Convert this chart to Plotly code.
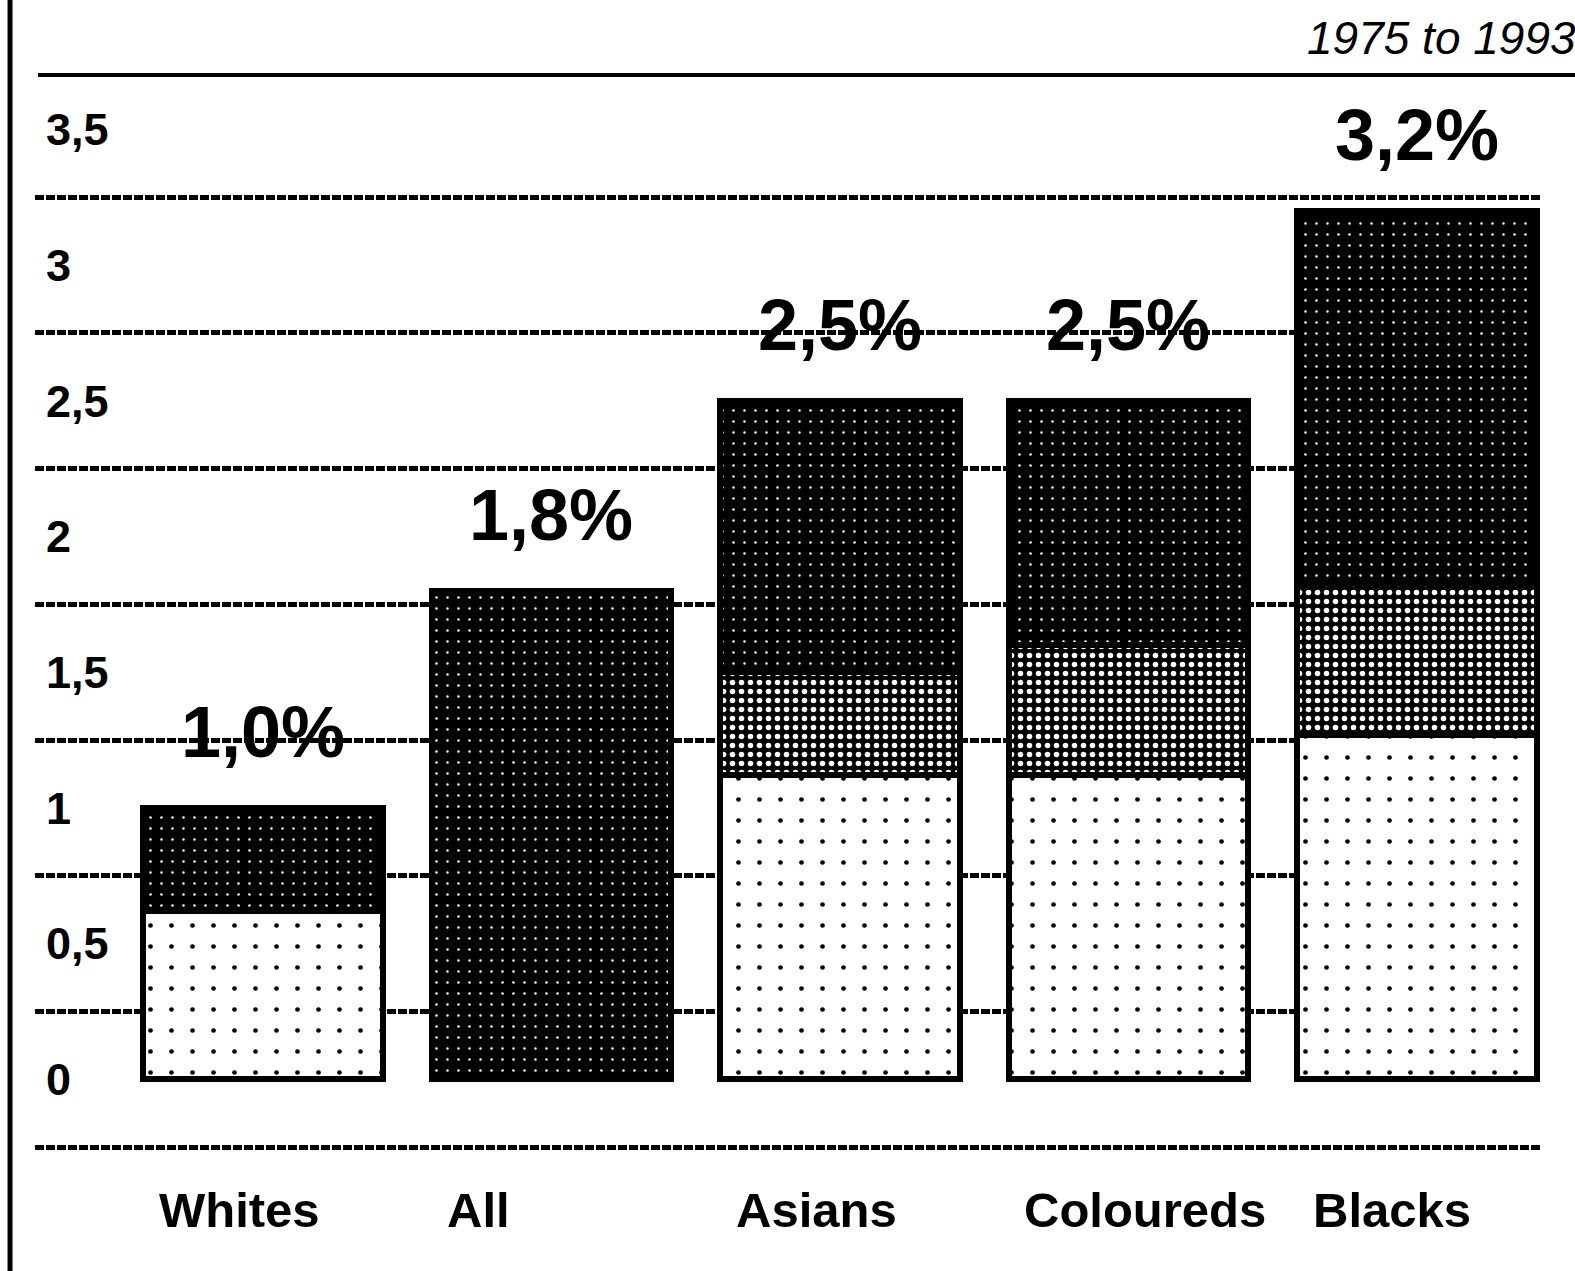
import plotly.graph_objects as go

# Average annual population growth, 1975 to 1993
categories = ["Whites", "All", "Asians", "Coloureds", "Blacks"]
growth = [1.0, 1.8, 2.5, 2.5, 3.2]

# Shading levels inside each bar (pale lower part, mottled middle, dark top)
pale_top = [0.62, 0.0, 1.12, 1.12, 1.27]
mottled_top = [0.62, 0.0, 1.5, 1.6, 1.83]

# Axis tick labels
tick_values = [0, 0.5, 1, 1.5, 2, 2.5, 3, 3.5]
tick_labels = ["0", "0,5", "1", "1,5", "2", "2,5", "3", "3,5"]

period = "1975 to 1993"

FONT = "Liberation Sans, Arial, Helvetica, sans-serif"

x_idx = list(range(len(categories)))
pale = pale_top
mottled = [m - p for m, p in zip(mottled_top, pale_top)]
dark = [v - m for v, m in zip(growth, mottled_top)]

BAR_W = 0.83
outline = dict(color="black", width=6)

fig = go.Figure()
fig.add_bar(
    x=x_idx, y=pale, width=BAR_W,
    marker=dict(color="white", line=outline,
                pattern=dict(shape=".", fgcolor="black", bgcolor="white",
                             size=21, solidity=0.04, fillmode="replace")),
    hoverinfo="skip", showlegend=False,
)
fig.add_bar(
    x=x_idx, y=mottled, width=BAR_W,
    marker=dict(color="black", line=outline,
                pattern=dict(shape=".", fgcolor="white", bgcolor="black",
                             size=9, solidity=0.3, fillmode="replace")),
    hoverinfo="skip", showlegend=False,
)
fig.add_bar(
    x=x_idx, y=dark, width=BAR_W,
    marker=dict(color="black", line=outline,
                pattern=dict(shape=".", fgcolor="white", bgcolor="black",
                             size=11, solidity=0.04, fillmode="replace")),
    hoverinfo="skip", showlegend=False,
)

annotations = []
# value labels above the bars
for i, v in enumerate(growth):
    annotations.append(dict(
        x=i, y=v, xref="x", yref="y", yanchor="bottom", xanchor="center",
        yshift=34, showarrow=False,
        text=f"{v:.1f}".replace(".", ",") + "%",
        font=dict(family=FONT, size=72, color="black", weight=700),
    ))
# category names, left-aligned under each bar
for i, name in enumerate(categories):
    annotations.append(dict(
        x=i, y=-0.056, xref="x", yref="paper", xanchor="left", yanchor="middle",
        xshift=-106, showarrow=False, text=name,
        font=dict(family=FONT, size=49, color="black", weight=700),
    ))
# period note, top right
annotations.append(dict(
    x=1.0253, y=1.034, xref="paper", yref="paper", xanchor="right", yanchor="middle",
    showarrow=False, text=period,
    font=dict(family=FONT, size=46, color="black", style="italic"),
))

shapes = [
    # rule along the top of the chart
    dict(type="line", xref="paper", yref="paper", x0=0.002, x1=1.03, y0=1, y1=1,
         line=dict(color="black", width=4)),
    # frame line down the left side
    dict(type="line", xref="paper", yref="paper", x0=-0.0166, x1=-0.0166,
         y0=-0.12, y1=1.08, line=dict(color="black", width=5)),
]

fig.update_layout(
    width=1575, height=1271,
    margin=dict(l=35, r=35, t=75, b=121, pad=0),
    paper_bgcolor="white", plot_bgcolor="white",
    barmode="stack", bargap=0,
    showlegend=False,
    annotations=annotations, shapes=shapes,
    xaxis=dict(range=[-0.79, 4.427], showticklabels=False, showgrid=False,
               zeroline=False, showline=False, ticks="", fixedrange=True),
    yaxis=dict(
        range=[-0.26, 3.70], tickmode="array", tickvals=tick_values, ticktext=tick_labels,
        ticklabelposition="inside", ticklabelstandoff=8, ticks="",
        tickfont=dict(family=FONT, size=45, color="black", weight=700),
        showgrid=False, zeroline=False, showline=False,
        minor=dict(tick0=0.25, dtick=0.5, showgrid=True, gridcolor="black",
                   gridwidth=5, griddash="9px,2px", ticks=""),
    ),
)

fig.write_html("out.html")
